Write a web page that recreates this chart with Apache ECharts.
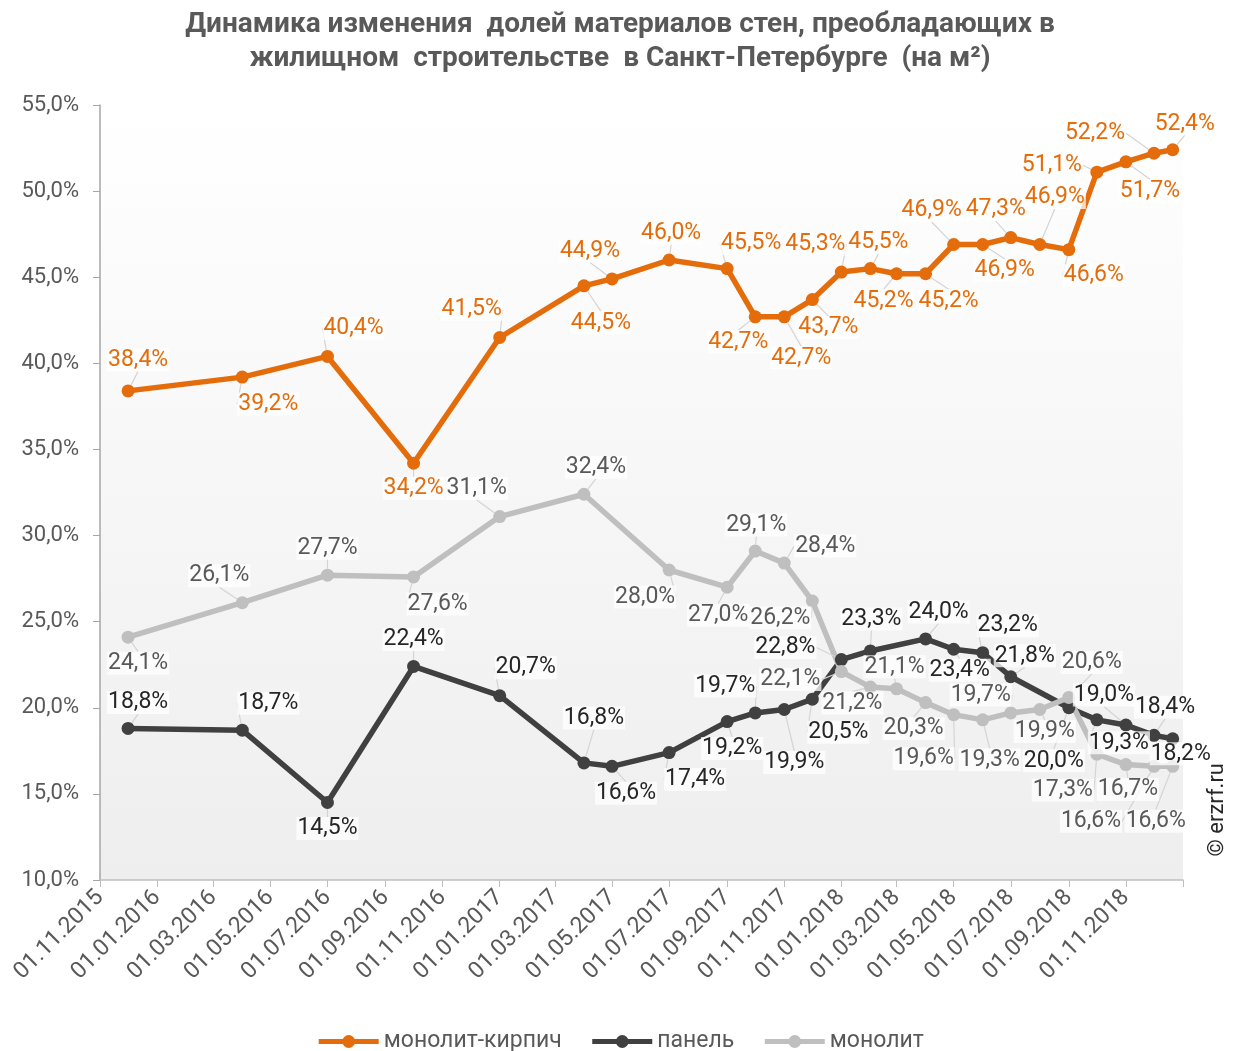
<!DOCTYPE html>
<html>
<head>
<meta charset="utf-8">
<script src="https://cdn.jsdelivr.net/npm/echarts@6/dist/echarts.min.js"></script>
<style>
  html, body { margin: 0; padding: 0; background: #fff; }
  #chart { width: 1240px; height: 1051px; }
</style>
</head>
<body>
<div id="chart"></div>
<script>
// dates of the observations
const dates = [
  '2015-12-01', '2016-04-01', '2016-07-01', '2016-10-01', '2017-01-01',
  '2017-04-01', '2017-05-01', '2017-07-01', '2017-09-01', '2017-10-01',
  '2017-11-01', '2017-12-01', '2018-01-01', '2018-02-01', '2018-03-01',
  '2018-04-01', '2018-05-01', '2018-06-01', '2018-07-01', '2018-08-01',
  '2018-09-01', '2018-10-01', '2018-11-01', '2018-12-01', '2018-12-21'
];

const monolitKirpich = [
  38.4, 39.2, 40.4, 34.2, 41.5, 44.5, 44.9, 46.0, 45.5, 42.7,
  42.7, 43.7, 45.3, 45.5, 45.2, 45.2, 46.9, 46.9, 47.3, 46.9,
  46.6, 51.1, 51.7, 52.2, 52.4
];
const panel = [
  18.8, 18.7, 14.5, 22.4, 20.7, 16.8, 16.6, 17.4, 19.2, 19.7,
  19.9, 20.5, 22.8, 23.3, null, 24.0, 23.4, 23.2, 21.8, null,
  20.0, 19.3, 19.0, 18.4, 18.2
];
const monolit = [
  24.1, 26.1, 27.7, 27.6, 31.1, 32.4, null, 28.0, 27.0, 29.1,
  28.4, 26.2, 22.1, 21.2, 21.1, 20.3, 19.6, 19.3, 19.7, 19.9,
  20.6, 17.3, 16.7, 16.6, 16.6
];

const seriesNames = ['монолит-кирпич', 'панель', 'монолит'];

// x axis ticks every 2 months
const tickDates = [
  '2015-11-01', '2016-01-01', '2016-03-01', '2016-05-01', '2016-07-01',
  '2016-09-01', '2016-11-01', '2017-01-01', '2017-03-01', '2017-05-01',
  '2017-07-01', '2017-09-01', '2017-11-01', '2018-01-01', '2018-03-01',
  '2018-05-01', '2018-07-01', '2018-09-01', '2018-11-01'
];

// where each data label sits relative to its point (dx, dy in px)
const labelShift = [
  [[10,-31],[26,27],[26,-28],[0,25],[-28,-28],[17,37],[-22,-28],[2,-27],[24,-25],[-17,25],
   [17,41],[16,28],[-26,-28],[8,-26],[-13,27],[23,27],[-22,-34],[22,26],[-15,-28],[15,-47],
   [25,26],[-45,-7],[24,29],[-59,-20],[12,-26]],
  [[10,-26],[26,-27],[0,26],[0,-27],[26,-28],[10,-45],[14,27],[26,27],[5,27],[-30,-27],
   [10,53],[26,33],[-56,-12],[1,-32],null,[13,-27],[6,21],[25,-27],[14,-21],null,
   [-15,53],[22,23],[-22,-30],[11,-28],[8,15]],
  [[10,26],[-23,-27],[0,-27],[24,27],[-23,-28],[12,-27],null,[-24,27],[-9,28],[1,-26],
   [41,-17],[-32,17],[-51,8],[-18,16],[-2,-22],[-12,26],[-30,44],[7,40],[-30,-18],[5,22],
   [23,-35],[-34,36],[2,25],[-63,55],[-17,55]]
];

const colors = ['#E46C0A', '#404040', '#BFBFBF'];
const labelColors = ['#E46C0A', '#262626', '#595959'];

function ts(s) {
  const p = s.split('-').map(Number);
  return Date.UTC(p[0], p[1] - 1, p[2]);
}
function pad(n) { return n < 10 ? '0' + n : '' + n; }
function fmtDate(v) {
  const d = new Date(v);
  return pad(d.getUTCDate()) + '.' + pad(d.getUTCMonth() + 1) + '.' + d.getUTCFullYear();
}
function pct(v) { return v.toFixed(1).replace('.', ',') + '%'; }

function makeSeries(idx, values) {
  return {
    name: seriesNames[idx],
    type: 'line',
    data: dates.map((d, i) => values[i] == null ? null : [ts(d), values[i]]),
    connectNulls: true,
    symbol: 'circle',
    symbolSize: 13,
    lineStyle: { width: 5.5, color: colors[idx] },
    itemStyle: { color: colors[idx] },
    label: {
      show: true,
      position: 'inside',
      fontFamily: 'Roboto',
      fontSize: 23,
      color: labelColors[idx],
      backgroundColor: 'rgba(255,255,255,0.75)',
      padding: [0, 1],
      formatter: p => pct(p.value[1])
    },
    labelLine: {
      show: true,
      lineStyle: { color: '#d4d4d4', width: 1.2 }
    },
    labelLayout: function (p) {
      const o = labelShift[idx][p.dataIndex];
      return o ? { dx: o[0], dy: o[1] } : {};
    },
    emphasis: { disabled: true }
  };
}

const chart = echarts.init(document.getElementById('chart'));

chart.setOption({
  animation: false,
  backgroundColor: '#ffffff',
  title: {
    text: 'Динамика изменения  долей материалов стен, преобладающих в\nжилищном  строительстве  в Санкт-Петербурге  (на м²)',
    left: 'center',
    top: 3,
    textStyle: {
      fontFamily: 'Roboto',
      fontWeight: 'bold',
      fontSize: 28,
      lineHeight: 34,
      color: '#595959'
    }
  },
  legend: {
    top: 1025,
    left: 'center',
    itemWidth: 60,
    itemHeight: 16,
    itemGap: 28,
    lineStyle: { width: 5 },
    textStyle: { fontFamily: 'Roboto', fontSize: 23, color: '#595959' },
    data: seriesNames
  },
  grid: {
    left: 100,
    right: 57,
    top: 105,
    bottom: 171,
    show: true,
    borderWidth: 0,
    backgroundColor: new echarts.graphic.LinearGradient(0, 0, 0, 1, [
      { offset: 0, color: '#ffffff' },
      { offset: 1, color: '#eeeeee' }
    ])
  },
  xAxis: {
    type: 'value',
    min: ts('2015-11-01'),
    max: ts('2019-01-01'),
    splitLine: { show: false },
    axisLine: { show: true, lineStyle: { color: '#bfbfbf', width: 1.5 } },
    axisTick: {
      show: true,
      length: 7,
      customValues: tickDates.map(ts).concat([ts('2019-01-01')]),
      lineStyle: { color: '#bfbfbf' }
    },
    axisLabel: {
      customValues: tickDates.map(ts),
      rotate: 45,
      fontFamily: 'Roboto',
      fontSize: 23,
      color: '#595959',
      margin: 14,
      formatter: fmtDate
    }
  },
  yAxis: {
    type: 'value',
    min: 10,
    max: 55,
    interval: 5,
    splitLine: { show: false },
    axisLine: { show: true, lineStyle: { color: '#a6a6a6', width: 1.5 } },
    axisTick: { show: true, length: 7, lineStyle: { color: '#a6a6a6' } },
    axisLabel: {
      fontFamily: 'Roboto',
      fontSize: 22,
      color: '#595959',
      margin: 21,
      formatter: v => pct(v)
    }
  },
  graphic: [{
    type: 'text',
    left: 1206,
    top: 763,
    rotation: Math.PI / 2,
    style: {
      text: '© erzrf.ru',
      font: '22px Roboto',
      fill: '#262626'
    }
  }],
  series: [
    makeSeries(0, monolitKirpich),
    makeSeries(1, panel),
    makeSeries(2, monolit)
  ]
});
</script>
</body>
</html>
